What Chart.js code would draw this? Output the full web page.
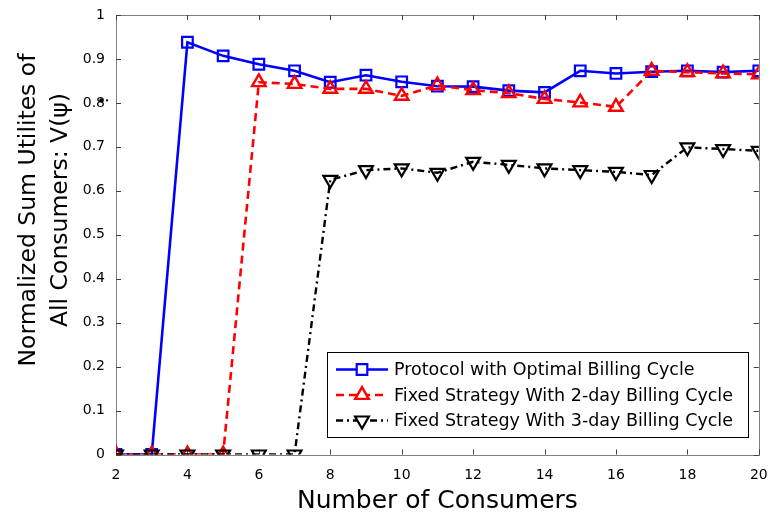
<!DOCTYPE html>
<html>
<head>
<meta charset="utf-8">
<script src="https://cdn.jsdelivr.net/npm/chart.js@4.4.0/dist/chart.umd.min.js"></script>
<style>
  html, body { margin: 0; padding: 0; background: #ffffff; }
  #wrap { width: 769px; height: 518px; position: relative; }
</style>
</head>
<body>
<div id="wrap"><canvas id="c" width="769" height="518"></canvas></div>
<script>
// Number of consumers on the horizontal axis
const consumers = [2, 3, 4, 5, 6, 7, 8, 9, 10, 11, 12, 13, 14, 15, 16, 17, 18, 19, 20];

// Normalized sum of utilities for each strategy
const optimalCycle = [0, 0, 0.938, 0.907, 0.888, 0.873, 0.847, 0.863, 0.848, 0.838, 0.837, 0.828, 0.824, 0.873, 0.867, 0.871, 0.873, 0.870, 0.873];
const fixed2Day    = [0, 0, 0, 0, 0.847, 0.843, 0.832, 0.832, 0.816, 0.840, 0.829, 0.822, 0.809, 0.801, 0.791, 0.873, 0.870, 0.867, 0.865];
const fixed3Day    = [0, 0, 0, 0, 0, 0, 0.625, 0.647, 0.651, 0.641, 0.666, 0.659, 0.651, 0.647, 0.643, 0.636, 0.699, 0.695, 0.691];

const seriesNames = [
  'Protocol with Optimal Billing Cycle',
  'Fixed Strategy With 2-day Billing Cycle',
  'Fixed Strategy With 3-day Billing Cycle'
];

const xTicks = [2, 4, 6, 8, 10, 12, 14, 16, 18, 20];
const yTicks = [0, 0.1, 0.2, 0.3, 0.4, 0.5, 0.6, 0.7, 0.8, 0.9, 1];

const xTitle = 'Number of Consumers';
const yTitleLines = ['Normalized Sum Utilites of', 'All Consumers: V(\u03C8)'];

const FONT = '"DejaVu Sans", Arial, sans-serif';

function toPoints(values) {
  return consumers.map((c, i) => ({ x: c, y: values[i] }));
}

const datasets = [
  {
    label: seriesNames[0],
    data: toPoints(optimalCycle),
    borderColor: '#0000ff',
    backgroundColor: 'rgba(0,0,0,0)',
    borderWidth: 2.6,
    pointStyle: 'rect',
    pointRadius: 7.5,
    pointBorderWidth: 2.2,
    pointBorderColor: '#0000ff',
    pointBackgroundColor: 'rgba(0,0,0,0)',
    pointRotation: 0,
    order: 2
  },
  {
    label: seriesNames[1],
    data: toPoints(fixed2Day),
    borderColor: '#ff0000',
    backgroundColor: 'rgba(0,0,0,0)',
    borderWidth: 2.6,
    borderDash: [8, 5],
    pointStyle: 'triangle',
    pointRadius: 7.8,
    pointBorderWidth: 2.4,
    pointBorderColor: '#ff0000',
    pointBackgroundColor: 'rgba(0,0,0,0)',
    pointRotation: 0,
    order: 1
  },
  {
    label: seriesNames[2],
    data: toPoints(fixed3Day),
    borderColor: '#000000',
    backgroundColor: 'rgba(0,0,0,0)',
    borderWidth: 2.4,
    borderDash: [7, 4, 2, 4],
    pointStyle: 'triangle',
    pointRadius: 8,
    pointBorderWidth: 2.2,
    pointBorderColor: '#000000',
    pointBackgroundColor: 'rgba(0,0,0,0)',
    pointRotation: 180,
    order: 0
  }
];

// Axes box, inward tick marks, rotated y title and the boxed legend
const decorations = {
  id: 'decorations',
  beforeDatasetsDraw(chart) {
    const { ctx, chartArea: a, scales } = chart;
    ctx.save();
    ctx.strokeStyle = '#808080';
    ctx.lineWidth = 1;
    ctx.strokeRect(Math.round(a.left) + 0.5, Math.round(a.top) + 0.5,
                   Math.round(a.right - a.left), Math.round(a.bottom - a.top));
    ctx.strokeStyle = '#404040';
    const tl = 5;
    ctx.beginPath();
    xTicks.forEach(v => {
      const px = Math.round(scales.x.getPixelForValue(v)) + 0.5;
      ctx.moveTo(px, a.bottom); ctx.lineTo(px, a.bottom - tl);
      ctx.moveTo(px, a.top); ctx.lineTo(px, a.top + tl);
    });
    yTicks.forEach(v => {
      const py = Math.round(scales.y.getPixelForValue(v)) + 0.5;
      ctx.moveTo(a.left, py); ctx.lineTo(a.left + tl, py);
      ctx.moveTo(a.right, py); ctx.lineTo(a.right - tl, py);
    });
    ctx.stroke();

    // y-axis title, two rotated lines
    ctx.fillStyle = '#000000';
    ctx.font = '23.5px ' + FONT;
    ctx.textAlign = 'center';
    ctx.textBaseline = 'middle';
    const cy = 210;
    yTitleLines.forEach((line, i) => {
      ctx.save();
      ctx.translate(a.left - 87.5 + i * 32, cy);
      ctx.rotate(-Math.PI / 2);
      ctx.fillText(line, 0, 0);
      ctx.restore();
    });

    // small ink dot beside the 0.8 label
    const y08 = scales.y.getPixelForValue(0.8);
    ctx.beginPath();
    ctx.arc(a.left - 14.5, y08 - 2.5, 2.2, 0, Math.PI * 2);
    ctx.fill();
    ctx.beginPath();
    ctx.arc(a.left - 9, y08 - 2.5, 1.1, 0, Math.PI * 2);
    ctx.fill();
    ctx.restore();
  },
  afterDraw(chart) {
    const { ctx, chartArea: a } = chart;
    const box = { left: a.left + 211, top: a.top + 337, w: 421, h: 85 };
    ctx.save();
    ctx.fillStyle = '#ffffff';
    ctx.fillRect(box.left, box.top, box.w, box.h);
    ctx.strokeStyle = '#000000';
    ctx.lineWidth = 1;
    ctx.strokeRect(box.left + 0.5, box.top + 0.5, box.w, box.h);

    const rowY = [17.5, 43, 68.5];
    chart.data.datasets.forEach((ds, i) => {
      const y = box.top + rowY[i];
      const x0 = box.left + 9, x1 = box.left + 61, xm = (x0 + x1) / 2;
      ctx.save();
      ctx.strokeStyle = ds.borderColor;
      ctx.lineWidth = ds.borderWidth;
      ctx.setLineDash(ds.borderDash || []);
      ctx.beginPath();
      ctx.moveTo(x0, y); ctx.lineTo(x1, y);
      ctx.stroke();
      ctx.setLineDash([]);
      ctx.fillStyle = '#ffffff';
      ctx.lineWidth = ds.pointBorderWidth;
      Chart.helpers.drawPoint(ctx, {
        pointStyle: ds.pointStyle,
        rotation: ds.pointRotation,
        radius: ds.pointRadius,
        borderWidth: ds.pointBorderWidth
      }, xm, y);
      ctx.restore();

      ctx.fillStyle = '#000000';
      ctx.font = '17.5px ' + FONT;
      ctx.textAlign = 'left';
      ctx.textBaseline = 'middle';
      ctx.fillText(ds.label, box.left + 67, y + 1);
    });
    ctx.restore();
  }
};

new Chart(document.getElementById('c'), {
  type: 'line',
  data: { datasets },
  options: {
    responsive: false,
    animation: false,
    devicePixelRatio: 1,
    layout: { padding: { top: 15, right: 10, left: 0, bottom: 0 } },
    plugins: { legend: { display: false }, tooltip: { enabled: false } },
    elements: { line: { tension: 0 } },
    scales: {
      x: {
        type: 'linear',
        min: 2,
        max: 20,
        afterBuildTicks: s => { s.ticks = xTicks.map(v => ({ value: v })); },
        afterFit: s => { s.height = 63.5; s.paddingLeft = 0; s.paddingRight = 0; },
        grid: { display: false, drawTicks: false },
        border: { display: false },
        ticks: {
          color: '#000000',
          font: { family: FONT, size: 14 },
          padding: 12,
          maxRotation: 0,
          autoSkip: false
        },
        title: {
          display: true,
          text: xTitle,
          color: '#000000',
          font: { family: FONT, size: 25 },
          padding: { top: 0, bottom: 2 }
        }
      },
      y: {
        type: 'linear',
        min: 0,
        max: 1,
        afterBuildTicks: s => { s.ticks = yTicks.map(v => ({ value: v })); },
        afterFit: s => { s.width = 116; s.paddingTop = 0; s.paddingBottom = 0; },
        grid: { display: false, drawTicks: false },
        border: { display: false },
        ticks: {
          color: '#000000',
          font: { family: FONT, size: 14 },
          padding: 11,
          callback: v => (v === 0 ? '0' : v === 1 ? '1' : v.toFixed(1))
        }
      }
    }
  },
  plugins: [decorations]
});
</script>
</body>
</html>
